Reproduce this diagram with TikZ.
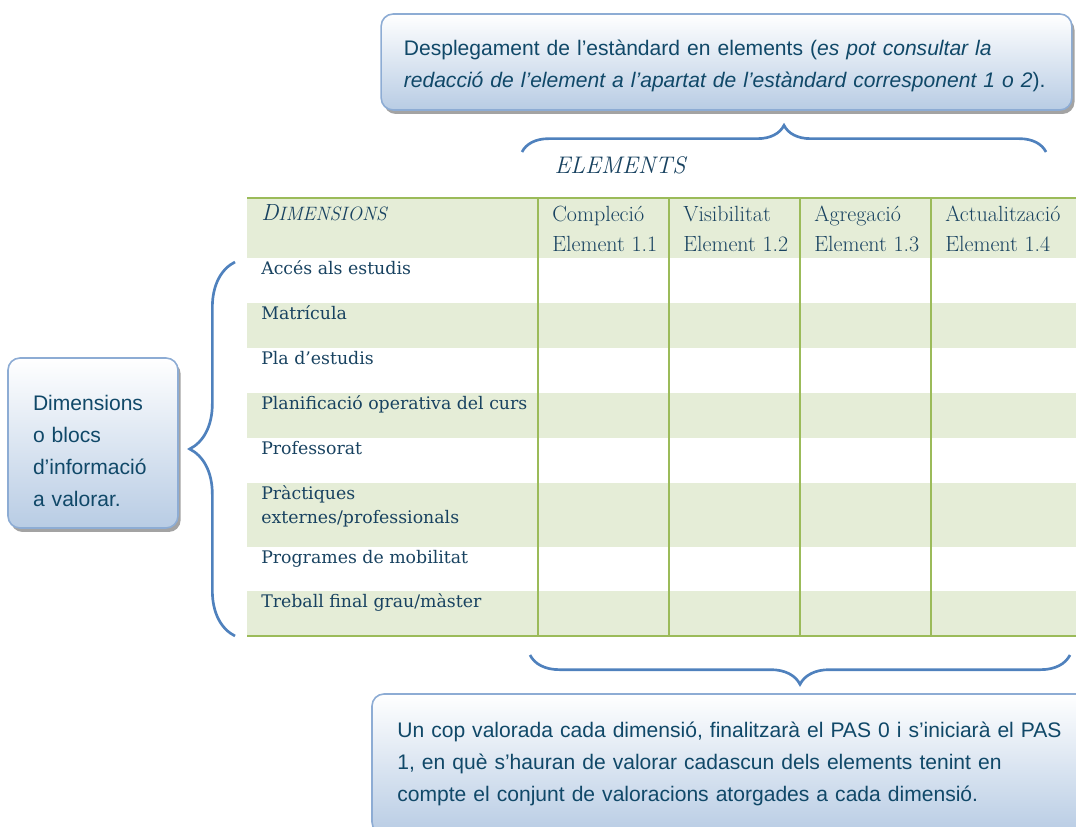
\documentclass[tikz,border=0pt]{standalone}
\usepackage{fontspec}
\newfontfamily\boxfont{Liberation Sans}
\newfontfamily\rowfont{DejaVu Serif}
\usetikzlibrary{
		decorations.pathreplacing,
		shadows,
		positioning
	}
\definecolor{boxline}{RGB}{141,172,212}
\definecolor{boxblue}{RGB}{184,204,228}
\definecolor{txtblue}{RGB}{16,72,104}
\definecolor{tabtext}{RGB}{24,66,96}
\definecolor{rowgreen}{RGB}{229,237,215}
\definecolor{gridgreen}{RGB}{155,187,89}
\definecolor{braceblue}{RGB}{79,129,189}
\tikzset{
		infobox/.style={draw=boxline, line width=1.2pt, rounded corners=9pt,
			top color=white, bottom color=boxblue, text=txtblue, align=left,
			font=\boxfont\fontsize{15.8}{24}\selectfont, inner ysep=0pt,
			drop shadow={shadow xshift=2pt, shadow yshift=-3pt, fill=black!45, opacity=0.8}},
		bluebrace/.style={decorate, decoration={brace, amplitude=#1}, draw=braceblue, line width=2pt},
		cell/.style={anchor=base west, inner sep=0pt, text=tabtext, font=\fontsize{16.5}{18}\selectfont},
		rowcell/.style={cell, font=\rowfont\fontsize{13}{18}\selectfont}
	}

\begin{document}
\begin{tikzpicture}[x=0.75pt, y=-0.75pt]
		\useasboundingbox (0,0) rectangle (1076,827);
		% table
		\begin{scope}
			\fill[rowgreen] (247,198) rectangle (1076,258);
			\fill[rowgreen] (247,303) rectangle (1076,348);
			\fill[rowgreen] (247,393) rectangle (1076,438);
			\fill[rowgreen] (247,483) rectangle (1076,547);
			\fill[rowgreen] (247,591) rectangle (1076,636);
			\draw[gridgreen, line width=1.5pt] (247,198) -- (1076,198);
			\draw[gridgreen, line width=1.5pt] (247,636) -- (1076,636);
			\draw[gridgreen, line width=1pt] (538,198) -- (538,636);
			\draw[gridgreen, line width=1pt] (669,198) -- (669,636);
			\draw[gridgreen, line width=1pt] (800,198) -- (800,636);
			\draw[gridgreen, line width=1pt] (931,198) -- (931,636);
		\end{scope}
		\node[cell] (dim) at (261,221) {\textit{\fontsize{17.5}{18}\selectfont D\fontsize{14.5}{16}\selectfont IMENSIONS}};
		\node[cell] (el1a) at (552,222) {Compleció};
		\node[cell] (el1b) at (552,252) {Element 1.1};
		\node[cell] (el2a) at (683,222) {Visibilitat};
		\node[cell] (el2b) at (683,252) {Element 1.2};
		\node[cell] (el3a) at (814,222) {Agregació};
		\node[cell] (el3b) at (814,252) {Element 1.3};
		\node[cell] (el4a) at (945,222) {Actualització};
		\node[cell] (el4b) at (945,252) {Element 1.4};
		\node[rowcell] (acces) at (261,275) {Accés als estudis};
		\node[rowcell] (matricula) at (261,320) {Matrícula};
		\node[rowcell] (pla) at (261,365) {Pla d’estudis};
		\node[rowcell] (planif) at (261,410) {Planificació operativa del curs};
		\node[rowcell] (prof) at (261,455) {Professorat};
		\node[rowcell] (practa) at (261,500) {Pràctiques};
		\node[rowcell] (practb) at (261,524) {externes/professionals};
		\node[rowcell] (mobil) at (261,564) {Programes de mobilitat};
		\node[rowcell] (treball) at (261,608) {Treball final grau/màster};
		\node[text=tabtext, font=\itshape\fontsize{18}{20}\selectfont] (elements) at (620,165) {ELEMENTS};
		% braces
		\draw[bluebrace=20pt] (522,152) -- (1046,152);
		\draw[bluebrace=34pt] (235,636) -- (235,262);
		\draw[bluebrace=22pt] (1070,655) -- (530,655);
		% boxes
		\node[infobox, minimum width=518pt, minimum height=72pt, text width=484pt, inner xsep=17pt] (desp) at (726.5,62)
			{\rule{0pt}{17pt}Desplegament de l’estàndard en elements (\textit{es pot consultar la}\\
			\textit{redacció de l’element a l’apartat de l’estàndard corresponent 1 o 2}).};
		\node[infobox, minimum width=127.5pt, minimum height=127.5pt, text width=90pt, inner xsep=18.75pt] (blocs) at (93,443)
			{\rule{0pt}{23pt}Dimensions\\o blocs\\d’informació\\a valorar.};
		\node[infobox, minimum width=546pt, minimum height=105pt, text width=508pt, inner xsep=18.75pt] (pas) at (736,764)
			{Un cop valorada cada dimensió, finalitzarà el PAS 0 i s’iniciarà el PAS\\
			1, en què s’hauran de valorar cadascun dels elements tenint en\\
			compte el conjunt de valoracions atorgades a cada dimensió.};
	\end{tikzpicture}
\end{document}
